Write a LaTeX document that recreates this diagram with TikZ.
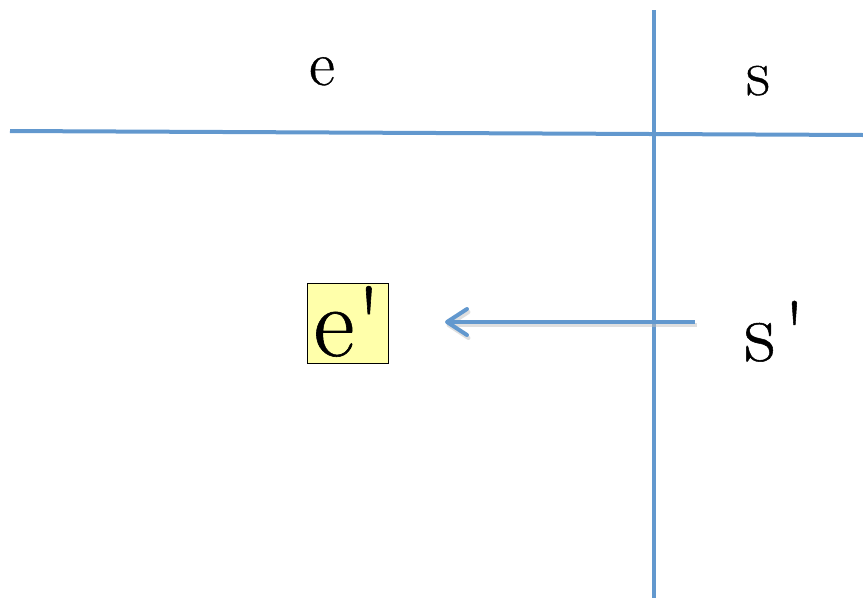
\documentclass[tikz,border=0pt]{standalone}
\usepackage{fontspec}
\newfontfamily\tms[FakeBold=0.6]{Latin Modern Roman}
\usetikzlibrary{arrows.meta}
\definecolor{axisblue}{RGB}{98,152,206}
\definecolor{boxyellow}{RGB}{255,255,170}
\tikzset{
  axis/.style={draw=axisblue, line width=4pt},
  lbl/.style={inner sep=0pt, text=black},
  barb/.style={-{Straight Barb[length=20pt,width=26pt,line cap=round,line join=round]}},
}
\begin{document}
\begin{tikzpicture}[x=1pt,y=-1pt]
\useasboundingbox (0,0) rectangle (863,600);
% lines
\coordinate (vt) at (654,10);
\coordinate (vb) at (654,598);
\coordinate (hl) at (10,131);
\coordinate (hr) at (863,135);
\draw[axis] (vt) -- (vb);
\draw[axis] (hl) -- (hr);
% labels
\node[lbl, font=\tms\fontsize{63}{63}\selectfont, anchor=base] (e) at (322,85) {e};
\node[lbl, font=\tms\fontsize{66}{66}\selectfont, anchor=base] (s) at (758,95) {s};
\node[draw=black, line width=1pt, fill=boxyellow, minimum width=81pt, minimum height=80pt, inner sep=0pt] (ep) at (347.5,323) {};
\node[lbl, font=\tms\fontsize{100}{100}\selectfont, anchor=base] (eptxt) at (347.5,356) {e\kern0.02em'};
\node[lbl, font=\tms\fontsize{86}{86}\selectfont, anchor=base west] (sp) at (744,361) {s\kern0.1em'};
\coordinate (as) at (695,322);
\coordinate (ae) at (445,322);
\draw[draw=black!25, line width=4pt, opacity=0.5, barb, transform canvas={shift={(1.5pt,-3pt)}}] (as) -- (ae);
\draw[axis, barb] (as) -- (ae);
\end{tikzpicture}
\end{document}
